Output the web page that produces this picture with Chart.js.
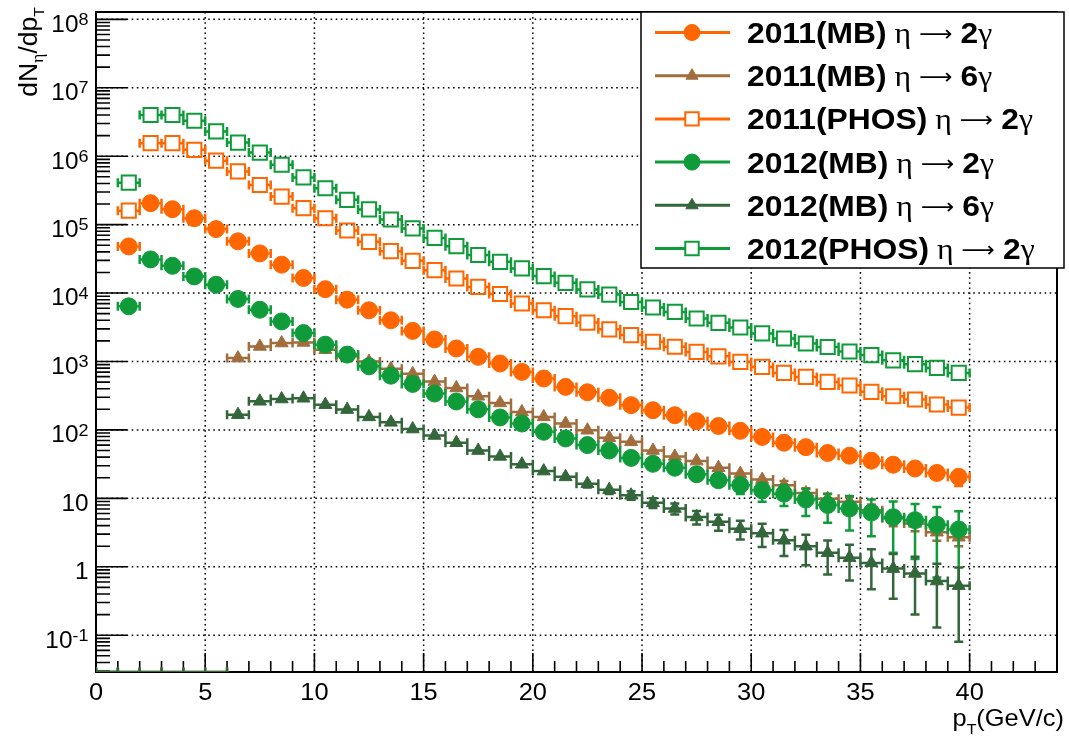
<!DOCTYPE html>
<html>
<head>
<meta charset="utf-8">
<script src="https://cdn.jsdelivr.net/npm/chart.js@4.4.1/dist/chart.umd.min.js"></script>
<style>
  html, body { margin: 0; padding: 0; background: #fff; }
  #wrap { width: 1069px; height: 740px; }
</style>
</head>
<body>
<div id="wrap"><canvas id="chart" width="1069" height="740"></canvas></div>
<script>
// bin centres (GeV/c), bins are 1 GeV/c wide
const PT = [0.5, 1.5, 2.5, 3.5, 4.5, 5.5, 6.5, 7.5, 8.5, 9.5, 10.5, 11.5, 12.5, 13.5, 14.5, 15.5, 16.5, 17.5, 18.5, 19.5,
            20.5, 21.5, 22.5, 23.5, 24.5, 25.5, 26.5, 27.5, 28.5, 29.5, 30.5, 31.5, 32.5, 33.5, 34.5, 35.5, 36.5, 37.5, 38.5, 39.5];
const PT_HALF_WIDTH = 0.5;

// 2011(MB) eta -> 2 gamma
const MB11_2G = [null, 4.8e4, 2.06e5, 1.68e5, 1.24e5, 8.6e4, 5.7e4, 3.8e4, 2.6e4, 1.66e4, 1.14e4, 8.0e3, 5.6e3, 4.0e3, 2.8e3, 2.1e3, 1.55e3, 1.17e3, 935, 705,
                 564, 425, 355, 295, 230, 194, 164, 134, 114, 97, 79, 65, 56, 46, 42, 35.5, 31, 27.3, 23.5, 20.6];
const MB11_2G_ERR = [null, 1500, 5000, 4000, 3000, 2000, 1300, 900, 600, 400, 280, 200, 140, 100, 75, 60, 45, 36, 30, 24,
                     20, 16, 14, 12, 10, 9, 8, 7, 6.5, 6, 5.5, 5, 4.5, 4, 4, 3.5, 3.5, 4, 4.5, 5.5];
// 2011(MB) eta -> 6 gamma
const MB11_6G = [0, 0, 0, 0, 0, 0, 1.12e3, 1.66e3, 1.86e3, 1.9e3, 1.49e3, 1.19e3, 1.0e3, 780, 660, 510, 410, 310, 248, 183,
                 155, 124, 99, 77, 67, 50, 41, 35, 28, 23, 18.8, 15.6, 12, 9.9, 8.9, 6.7, 5.1, 4.3, 3.2, 2.7];
const MB11_6G_ERR = [0, 0, 0, 0, 0, 0, 60, 70, 70, 70, 55, 45, 38, 30, 25, 20, 16, 13, 11, 9,
                     8, 7, 6, 5, 4.5, 4, 3.5, 3.2, 3, 2.7, 2.5, 2.3, 2, 1.8, 1.6, 1.4, 1.2, 1.0, 0.8, 0.7];
// 2011(PHOS) eta -> 2 gamma
const PHOS11_2G = [null, 1.6e5, 1.55e6, 1.55e6, 1.24e6, 8.6e5, 6.0e5, 3.8e5, 2.57e5, 1.74e5, 1.24e5, 8.2e4, 5.6e4, 4.1e4, 2.96e4, 2.16e4, 1.63e4, 1.23e4, 9.7e3, 7.05e3,
                   5.6e3, 4.6e3, 3.7e3, 2.95e3, 2.43e3, 1.94e3, 1.64e3, 1.38e3, 1.19e3, 986, 834, 681, 595, 503, 445, 360, 311, 278, 235, 212];
// 2012(MB) eta -> 2 gamma
const MB12_2G = [0, 6.4e3, 3.1e4, 2.5e4, 1.75e4, 1.32e4, 8.2e3, 5.7e3, 3.85e3, 2.6e3, 1.76e3, 1.26e3, 850, 620, 470, 340, 260, 200, 152, 124,
                 94, 75, 60, 50, 39, 32, 28, 22.5, 18.4, 15.6, 13.1, 11.7, 9.6, 8.0, 7.1, 6.2, 5.3, 4.8, 4.1, 3.5];
const MB12_2G_ERR = [0, 300, 1000, 800, 600, 450, 300, 200, 140, 100, 70, 50, 35, 27, 21, 16, 13, 10, 8.5, 7.5,
                     6.5, 6, 5.5, 5, 4.5, 4.3, 4.2, 4, 4, 4, 4.2, 4, 4.1, 3.6, 3.7, 3.4, 3.7, 3.5, 3.4, 3.0];
// 2012(MB) eta -> 6 gamma
const MB12_6G = [0, 0, 0, 0, 0, 0, 167, 262, 283, 290, 234, 198, 155, 129, 103, 83, 65, 50, 41, 31.5,
                 25, 20.6, 16.4, 13.4, 11.1, 8.6, 7.1, 5.35, 4.55, 3.6, 3.1, 2.44, 2.0, 1.6, 1.36, 1.14, 0.94, 0.8, 0.62, 0.53];
const MB12_6G_ERR = [0, 0, 0, 0, 0, 0, 7, 10, 11, 11, 9, 8, 6.5, 5.5, 4.5, 4, 3.5, 3, 3, 2.5,
                     2.5, 2.2, 2.0, 1.8, 1.6, 1.4, 1.3, 1.2, 1.2, 1.1, 1.15, 1.0, 0.95, 0.83, 0.73, 0.67, 0.6, 0.6, 0.49, 0.45];
// 2012(PHOS) eta -> 2 gamma
const PHOS12_2G = [null, 4.1e5, 4.0e6, 4.0e6, 3.3e6, 2.3e6, 1.58e6, 1.13e6, 7.5e5, 4.9e5, 3.4e5, 2.3e5, 1.67e5, 1.19e5, 8.8e4, 6.4e4, 4.85e4, 3.6e4, 2.86e4, 2.29e4,
                   1.77e4, 1.41e4, 1.13e4, 9.5e3, 7.4e3, 6.15e3, 5.3e3, 4.25e3, 3.67e3, 3.14e3, 2.57e3, 2.17e3, 1.83e3, 1.63e3, 1.4e3, 1.24e3, 1.04e3, 914, 806, 681];

const LEGEND_SAMPLE = ['2011(MB)', '2011(MB)', '2011(PHOS)', '2012(MB)', '2012(MB)', '2012(PHOS)'];
const LEGEND_NGAMMA = ['2', '6', '2', '2', '6', '2'];

const X_TICKS = [0, 5, 10, 15, 20, 25, 30, 35, 40];
const Y_TICK_EXP = [-1, 0, 1, 2, 3, 4, 5, 6, 7, 8];
const X_MIN = 0, X_MAX = 44;
const Y_MIN = 0.029, Y_MAX = 1.28e8;

const ORANGE = '#ff6600', BROWN = '#a16d3d', GREEN = '#0f9b3a', DKGREEN = '#33663a';

const SERIES = [
  { values: MB11_2G,   errors: MB11_2G_ERR, color: ORANGE,  style: 'circle',   radius: 8.5, open: false },
  { values: MB11_6G,   errors: MB11_6G_ERR, color: BROWN,   style: 'triangle', radius: 7.5, open: false },
  { values: PHOS11_2G, errors: null,        color: ORANGE,  style: 'rect',     radius: 10,  open: true },
  { values: MB12_2G,   errors: MB12_2G_ERR, color: GREEN,   style: 'circle',   radius: 8.5, open: false },
  { values: MB12_6G,   errors: MB12_6G_ERR, color: DKGREEN, style: 'triangle', radius: 7.5, open: false },
  { values: PHOS12_2G, errors: null,        color: GREEN,   style: 'rect',     radius: 10,  open: true }
];

const SX = 1.06;  // text in the picture is a little wide
const FONT = '"Liberation Sans", Arial, Helvetica, sans-serif';
const SERIF = '"Liberation Serif", "DejaVu Serif", serif';
const ARROW_FONT = '"DejaVu Sans", sans-serif';
const LEG = { left: 641, top: 12, right: 1064, bottom: 268, y0: 32.5, dy: 43.2, x0: 655, x1: 730, mx: 692, tx: 747 };

function gapOf(s) {
  if (s.style === 'rect') return s.radius * Math.SQRT1_2;
  if (s.style === 'triangle') return s.radius * 0.5;
  return s.radius;
}

// rich text: array of {text, font, dy}
function runsWidth(ctx, runs) {
  let w = 0;
  runs.forEach(r => { ctx.font = r.font; w += ctx.measureText(r.text).width * SX; });
  return w;
}
function drawRuns(ctx, runs, x, y, align) {
  const w = runsWidth(ctx, runs);
  let cx = align === 'right' ? x - w : align === 'center' ? x - w / 2 : x;
  ctx.textAlign = 'left';
  ctx.textBaseline = 'alphabetic';
  runs.forEach(r => {
    ctx.font = r.font;
    ctx.save();
    ctx.translate(cx, y + (r.dy || 0));
    ctx.scale(SX, 1);
    ctx.fillText(r.text, 0, 0);
    ctx.restore();
    cx += ctx.measureText(r.text).width * SX;
  });
}

function markerPath(ctx, style, r, x, y) {
  ctx.beginPath();
  if (style === 'circle') {
    ctx.arc(x, y, r, 0, Math.PI * 2);
  } else if (style === 'triangle') {
    ctx.moveTo(x, y - r);
    ctx.lineTo(x + r * Math.sin(Math.PI * 2 / 3), y - r * Math.cos(Math.PI * 2 / 3));
    ctx.lineTo(x - r * Math.sin(Math.PI * 2 / 3), y - r * Math.cos(Math.PI * 2 / 3));
    ctx.closePath();
  } else {
    const h = r * Math.SQRT1_2;
    ctx.rect(x - h, y - h, 2 * h, 2 * h);
  }
}

function drawGridAndAxes(chart) {
  const { ctx, chartArea: a } = chart;
  const xs = chart.scales.x, ys = chart.scales.y;
  ctx.save();
  ctx.strokeStyle = '#000';
  ctx.lineWidth = 1.5;
  ctx.setLineDash([1.6, 3.5]);
  ctx.beginPath();
  X_TICKS.forEach(v => {
    if (v <= X_MIN) return;
    const p = xs.getPixelForValue(v);
    ctx.moveTo(p, a.top); ctx.lineTo(p, a.bottom);
  });
  Y_TICK_EXP.forEach(k => {
    const p = ys.getPixelForValue(Math.pow(10, k));
    ctx.moveTo(a.left, p); ctx.lineTo(a.right, p);
  });
  ctx.stroke();
  ctx.setLineDash([]);

  // ticks point inward, ROOT style
  ctx.lineWidth = 1.6;
  ctx.beginPath();
  for (let v = X_MIN; v <= X_MAX; v++) {
    const p = xs.getPixelForValue(v);
    const len = v % 5 === 0 ? 19 : 11;
    ctx.moveTo(p, a.bottom); ctx.lineTo(p, a.bottom - len);
  }
  for (let k = -2; k <= 8; k++) {
    for (let m = 1; m <= 9; m++) {
      const v = m * Math.pow(10, k);
      if (v < Y_MIN || v > Y_MAX) continue;
      const p = ys.getPixelForValue(v);
      const len = m === 1 ? 31 : 14;
      ctx.moveTo(a.left, p); ctx.lineTo(a.left + len, p);
    }
  }
  ctx.stroke();

  ctx.lineWidth = 2;
  ctx.strokeRect(a.left, a.top, a.right - a.left, a.bottom - a.top);
  ctx.restore();
}

// x and y error bars with end caps; empty bins get only their x bar on the frame bottom
function drawErrors(chart, idx) {
  const s = SERIES[idx];
  const { ctx, chartArea: a } = chart;
  const xs = chart.scales.x, ys = chart.scales.y;
  const gap = gapOf(s), cap = 4.5;
  ctx.save();
  ctx.beginPath();
  ctx.rect(a.left, a.top, a.right - a.left, a.bottom - a.top);
  ctx.clip();
  ctx.strokeStyle = s.color;
  ctx.lineWidth = 2.5;
  ctx.beginPath();
  PT.forEach((x, j) => {
    const v = s.values[j];
    if (v == null) return;
    const px = xs.getPixelForValue(x);
    const x0 = xs.getPixelForValue(x - PT_HALF_WIDTH), x1 = xs.getPixelForValue(x + PT_HALF_WIDTH);
    if (v <= 0) {
      const pb = a.bottom;
      ctx.moveTo(x0, pb); ctx.lineTo(x1, pb);
      ctx.moveTo(x0, pb - cap); ctx.lineTo(x0, pb + cap);
      ctx.moveTo(x1, pb - cap); ctx.lineTo(x1, pb + cap);
      return;
    }
    const py = ys.getPixelForValue(v);
    ctx.moveTo(x0, py); ctx.lineTo(px - gap, py);
    ctx.moveTo(px + gap, py); ctx.lineTo(x1, py);
    ctx.moveTo(x0, py - cap); ctx.lineTo(x0, py + cap);
    ctx.moveTo(x1, py - cap); ctx.lineTo(x1, py + cap);
    const e = s.errors ? s.errors[j] : 0;
    if (e > 0) {
      const yt = ys.getPixelForValue(v + e);
      const yb = v - e > 0 ? ys.getPixelForValue(v - e) : a.bottom + 10;
      if (yt < py - gap) {
        ctx.moveTo(px, py - gap); ctx.lineTo(px, yt);
        ctx.moveTo(px - cap, yt); ctx.lineTo(px + cap, yt);
      }
      if (yb > py + gap) {
        ctx.moveTo(px, py + gap); ctx.lineTo(px, yb);
        ctx.moveTo(px - cap, yb); ctx.lineTo(px + cap, yb);
      }
    }
  });
  ctx.stroke();
  ctx.restore();
}

function drawLabels(chart) {
  const { ctx, chartArea: a } = chart;
  const xs = chart.scales.x, ys = chart.scales.y;
  const fTick = '23px ' + FONT, fExp = '17px ' + FONT;
  ctx.save();
  ctx.fillStyle = '#000';
  Y_TICK_EXP.forEach(k => {
    const p = ys.getPixelForValue(Math.pow(10, k));
    let runs;
    if (k === 0) runs = [{ text: '1', font: fTick }];
    else if (k === 1) runs = [{ text: '10', font: fTick }];
    else runs = [{ text: '10', font: fTick }, { text: String(k), font: fExp, dy: -6.7 }];
    drawRuns(ctx, runs, 88.5, p + 12.4, 'right');
  });
  X_TICKS.forEach(v => {
    drawRuns(ctx, [{ text: String(v), font: '24px ' + FONT }], xs.getPixelForValue(v), a.bottom + 27.5, 'center');
  });

  // x title
  drawRuns(ctx, [
    { text: 'p', font: '24px ' + FONT },
    { text: 'T', font: '15px ' + FONT, dy: 8 },
    { text: '(GeV/c)', font: '24px ' + FONT }
  ], 1064, 726, 'right');

  // y title, rotated
  ctx.save();
  ctx.translate(37, 7);
  ctx.rotate(-Math.PI / 2);
  drawRuns(ctx, [
    { text: 'dN', font: '25px ' + FONT },
    { text: 'η', font: '17px ' + SERIF, dy: 6 },
    { text: '/dp', font: '25px ' + FONT },
    { text: 'T', font: '15px ' + FONT, dy: 7 }
  ], 0, 0, 'right');
  ctx.restore();
  ctx.restore();
}

function drawLegend(chart) {
  const ctx = chart.ctx;
  ctx.save();
  ctx.fillStyle = '#fff';
  ctx.fillRect(LEG.left, LEG.top, LEG.right - LEG.left, LEG.bottom - LEG.top);
  ctx.strokeStyle = '#000';
  ctx.lineWidth = 1.5;
  ctx.strokeRect(LEG.left, LEG.top, LEG.right - LEG.left, LEG.bottom - LEG.top);
  const fBold = 'bold 30px ' + FONT, fSym = '30px ' + SERIF, fArrow = '22px ' + ARROW_FONT;
  SERIES.forEach((s, i) => {
    const y = LEG.y0 + i * LEG.dy;
    ctx.strokeStyle = s.color;
    ctx.lineWidth = 3;
    ctx.beginPath();
    ctx.moveTo(LEG.x0, y); ctx.lineTo(LEG.x1, y);
    ctx.stroke();
    markerPath(ctx, s.style, s.radius - 0.5, LEG.mx, y);
    ctx.fillStyle = s.open ? '#fff' : s.color;
    ctx.fill();
    ctx.lineWidth = s.open ? 2 : 1;
    ctx.stroke();

    ctx.fillStyle = '#000';
    drawRuns(ctx, [
      { text: LEGEND_SAMPLE[i], font: fBold },
      { text: ' η ', font: fSym },
      { text: '⟶', font: fArrow, dy: -2 },
      { text: ' ', font: fSym },
      { text: LEGEND_NGAMMA[i], font: fBold },
      { text: 'γ', font: fSym }
    ], LEG.tx, y + 10.5, 'left');
  });
  ctx.restore();
}

const rootStyle = {
  id: 'rootStyle',
  beforeDatasetsDraw(chart) { drawGridAndAxes(chart); },
  beforeDatasetDraw(chart, args) { drawErrors(chart, args.index); },
  afterDraw(chart) { drawLabels(chart); drawLegend(chart); }
};

const datasets = SERIES.map((s, i) => {
  const pts = [];
  PT.forEach((x, j) => {
    const v = s.values[j];
    if (v == null || v <= 0) return;   // empty bins: no marker
    pts.push({ x: x, y: v });
  });
  return {
    data: pts,
    order: SERIES.length - i,
    showLine: false,
    pointStyle: s.style,
    pointRadius: s.radius,
    pointHoverRadius: s.radius,
    pointBorderWidth: s.open ? 2 : 1,
    pointBackgroundColor: s.open ? 'rgba(0,0,0,0)' : s.color,
    pointBorderColor: s.color
  };
});

new Chart(document.getElementById('chart'), {
  type: 'scatter',
  data: { datasets: datasets },
  options: {
    responsive: false,
    devicePixelRatio: 1,
    animation: false,
    events: [],
    layout: { padding: { left: 96, right: 5, top: 12, bottom: 68 } },
    plugins: { legend: { display: false }, tooltip: { enabled: false } },
    scales: {
      x: { type: 'linear', min: X_MIN, max: X_MAX, display: false },
      y: { type: 'logarithmic', min: Y_MIN, max: Y_MAX, display: false }
    }
  },
  plugins: [rootStyle]
});
</script>
</body>
</html>
